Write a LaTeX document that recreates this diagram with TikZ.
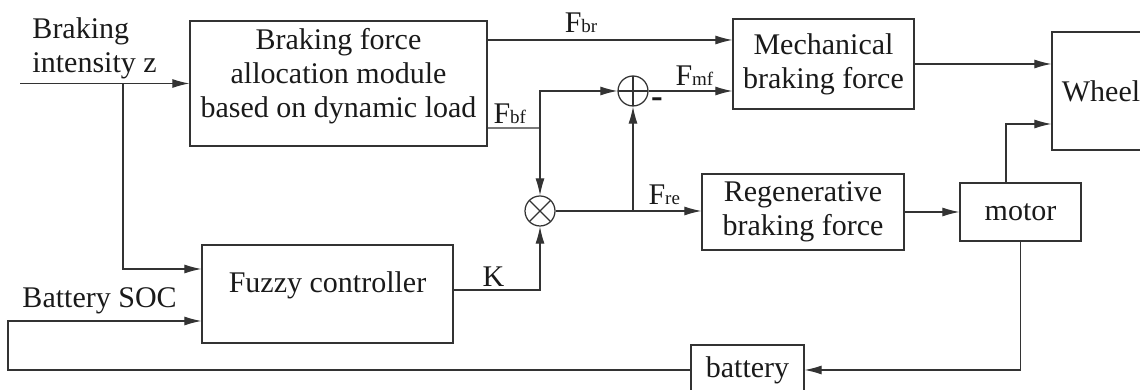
\documentclass[tikz,border=0pt]{standalone}
\usepackage{fontspec}
\setmainfont{Liberation Serif}
\usetikzlibrary{arrows.meta}
\definecolor{linec}{HTML}{333333}
\definecolor{txtc}{HTML}{1A1A1A}
\newcommand{\Fsub}[1]{F{\fontsize{7.6pt}{8pt}\selectfont #1}}
\begin{document}
\begin{tikzpicture}[x=0.4pt,y=-0.4pt,
  every node/.style={font=\fontsize{12pt}{13.6pt}\selectfont,text=txtc},
  blk/.style={draw=linec,line width=0.5pt,inner sep=0pt,align=center},
  junc/.style={circle,draw=linec,line width=0.5pt,minimum size=12pt,inner sep=0pt},
  ln/.style={draw=linec,line width=0.45pt},
  arr/.style={ln,-{Latex[length=6.8pt,width=3.6pt]}},
  lbl/.style={inner sep=0pt,anchor=base west}]
  \useasboundingbox (0,0) rectangle (1140,390);
  % blocks
  \node[blk,minimum width=118.8pt,minimum height=50pt] (alloc) at (338.5,83.5) {};
  \node[align=center,inner sep=0pt] (alloc-txt) at ([yshift=3.1pt]alloc.center) {Braking force\\allocation module\\based on dynamic load};
  \node[blk,minimum width=72.4pt,minimum height=36pt] (mech) at (823.5,64) {Mechanical\\braking force};
  \node[blk,minimum width=39.2pt,minimum height=47.2pt] (wheel) at (1101,91) {Wheel};
  \node[blk,minimum width=80.8pt,minimum height=30.4pt] (regen) at (803,212) {Regenerative\\braking force};
  \node[blk,minimum width=48.4pt,minimum height=23.2pt] (motor) at (1020.5,212) {motor};
  \node[blk,minimum width=100.4pt,minimum height=39.2pt] (fuzzy) at (327.5,294) {};
  \node[inner sep=0pt] (fuzzy-txt) at ([yshift=3.6pt]fuzzy.center) {Fuzzy controller};
  \node[blk,minimum width=45.2pt,minimum height=20pt] (battery) at (747.5,370) {battery};
  % summing and product points
  \node[junc,path picture={\draw[linec,line width=0.45pt] (path picture bounding box.north) -- (path picture bounding box.south) (path picture bounding box.west) -- (path picture bounding box.east);}] (sum) at (633,91) {};
  \node[junc,path picture={\draw[linec,line width=0.45pt] (path picture bounding box.north west) -- (path picture bounding box.south east) (path picture bounding box.north east) -- (path picture bounding box.south west);}] (mult) at (540,211) {};
  % inputs
  \node[align=left,inner sep=0pt,anchor=west] (z-txt) at (32,48) {Braking\\intensity z};
  \node[lbl] (soc-txt) at (22,308) {Battery SOC};
  \coordinate (zin) at (20,83.5);
  \coordinate (zsplit) at (123,83.5);
  \coordinate (soc) at (8,321);
  \coordinate (fbf) at (540,128);
  \coordinate (fre) at (mult.east -| sum.south);
  % connectors
  \draw[arr] (zin) -- (alloc.west);
  \draw[arr] (zsplit) |- ([yshift=10pt]fuzzy.west);
  \draw[arr] (battery.west) -| (soc) -- (soc -| fuzzy.west);
  \draw[arr] ([yshift=17.4pt]alloc.east) -- ([yshift=17.4pt]alloc.east -| mech.west);
  \draw[ln] ([yshift=-17.8pt]alloc.east) -- (fbf);
  \draw[arr] (fbf) -- (mult.north);
  \draw[arr] (fbf) |- (sum.west);
  \draw[arr] (sum.east) -- (sum.east -| mech.west);
  \draw[arr] (mult.east) -- (mult.east -| regen.west);
  \draw[arr] (fre) -- (sum.south);
  \draw[arr] ([yshift=1.6pt]fuzzy.east) -| (mult.south);
  \draw[arr] (mech.east) -- (mech.east -| wheel.west);
  \draw[arr] (regen.east) -- (regen.east -| motor.west);
  \draw[arr] ([xshift=-5.8pt]motor.north) |- ([yshift=-13.2pt]wheel.west);
  \draw[arr] (motor.south) |- (battery.east);
  % signal labels
  \node[inner sep=0pt,anchor=base] (fbr-lbl) at (581,33) {\Fsub{br}};
  \node[lbl] (fbf-lbl) at (493,124) {\Fsub{bf}};
  \node[lbl] (fmf-lbl) at (675,86) {\Fsub{mf}};
  \node[lbl] (fre-lbl) at (648,205) {\Fsub{re}};
  \node[lbl] (k-lbl) at (482,287) {K};
  \node[inner sep=0pt,font=\fontsize{14pt}{14pt}\selectfont\bfseries] (minus) at (657,103) {-};
\end{tikzpicture}
\end{document}
